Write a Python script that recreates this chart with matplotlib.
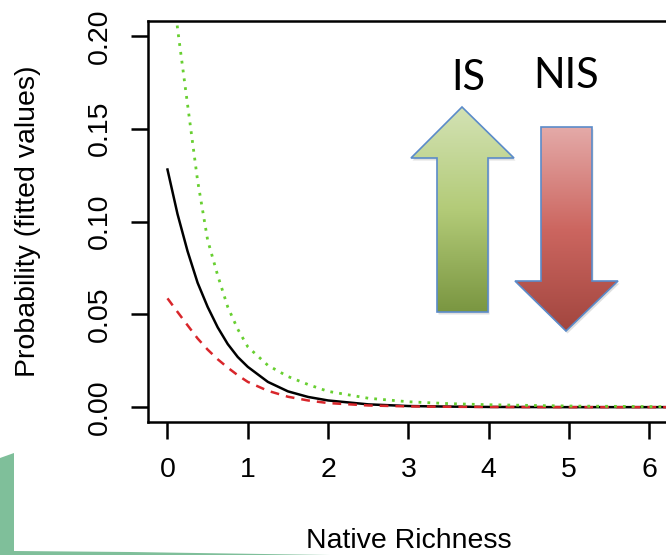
import numpy as np
import matplotlib
matplotlib.use("Agg")
import matplotlib.pyplot as plt
from matplotlib.patches import Polygon
from matplotlib.colors import LinearSegmentedColormap

plt.rcParams['font.family'] = ['Liberation Sans', 'DejaVu Sans']

# fitted probability of establishment vs native richness
richness = [0, 0.125, 0.25, 0.375, 0.5, 0.625, 0.75, 0.875, 1.0,
            1.25, 1.5, 1.75, 2.0, 2.5, 3.0, 3.5, 4.0, 5.0, 6.0, 7.0]
p_all = [0.128, 0.104, 0.084, 0.067, 0.054, 0.043, 0.034, 0.027, 0.0217,
         0.0136, 0.0085, 0.0055, 0.0036, 0.0015, 0.0006, 0.0003, 0.0001, 0.0, 0.0, 0.0]
p_is = [0.255, 0.204, 0.163, 0.122, 0.090, 0.071, 0.054, 0.042, 0.0325,
        0.0225, 0.0165, 0.0122, 0.0085, 0.0048, 0.0029, 0.0019, 0.0013, 0.0006, 0.0003, 0.0001]
p_nis = [0.0586, 0.0513, 0.0441, 0.0370, 0.0310, 0.0258, 0.0213, 0.0172, 0.0136,
         0.0088, 0.0056, 0.0036, 0.0022, 0.0009, 0.0004, 0.0002, 0.0001, 0.0, 0.0, 0.0]

xticks = [0, 1, 2, 3, 4, 5, 6]
yticks = [0.00, 0.05, 0.10, 0.15, 0.20]
ytick_labels = ['0.00', '0.05', '0.10', '0.15', '0.20']

W, H = 666, 555
fig = plt.figure(figsize=(W / 100, H / 100), dpi=100)
fig.patch.set_facecolor('white')

ax = fig.add_axes([148.2 / W, 133 / H, 520.5 / W, 401 / H])
ax.plot(richness, p_all, color='black', lw=1.8)
ax.plot(richness, p_nis, color='#d8262b', lw=1.8, dashes=(3.5, 2.8))
ax.plot(richness, p_is, color='#67cf30', lw=2.0, dashes=(1.0, 2.2))

ax.set_xlim(-0.24, 6.24)
ax.set_ylim(-0.008, 0.208)
ax.set_xticks(xticks)
ax.set_yticks(yticks)
ax.set_yticklabels(ytick_labels, rotation=90, va='center', ha='right')
ax.tick_params(length=12.2, width=1.8, labelsize=20.5, pad=13, color='black')
for s in ax.spines.values():
    s.set_linewidth(1.8)

ax.set_xlabel('Native Richness', fontsize=20.5)
ax.xaxis.set_label_coords(0.5, -0.265)
ax.set_ylabel('Probability (fitted values)', fontsize=20.5)
ax.yaxis.set_label_coords(-0.205, 0.5)

# overlay in pixel coordinates for the arrows and slide decoration
deco = fig.add_axes([0, 0, 1, 1], zorder=5)
deco.patch.set_alpha(0)
deco.axis('off')


def grad_arrow(pts, colors, edge='#5b8bc9'):
    pts = np.array(pts, dtype=float)
    shadow = Polygon(pts + [1.5, 2.5], closed=True, fc='#808080', ec='none', alpha=0.25)
    deco.add_patch(shadow)
    poly = Polygon(pts, closed=True, fc='none', ec=edge, lw=1.2, zorder=3)
    deco.add_patch(poly)
    cmap = LinearSegmentedColormap.from_list('g', colors)
    grad = np.linspace(0, 1, 256).reshape(-1, 1)
    x0, x1 = pts[:, 0].min(), pts[:, 0].max()
    y0, y1 = pts[:, 1].min(), pts[:, 1].max()
    im = deco.imshow(grad, cmap=cmap, extent=(x0, x1, y1, y0), origin='upper',
                     aspect='auto', zorder=2)
    im.set_clip_path(poly)


up_arrow = [(462, 107), (514, 158), (488, 158), (488, 312), (437, 312), (437, 158), (411, 158)]
down_arrow = [(541, 127), (592, 127), (592, 281), (618, 281), (566, 331), (515, 281), (541, 281)]
grad_arrow(up_arrow, ['#d3e2b4', '#b3cb78', '#7a9641'])
grad_arrow(down_arrow, ['#e4aaa8', '#cc6660', '#a2463f'])

deco.text(468, 90, 'IS', fontsize=30, family=['Lato', 'DejaVu Sans'], ha='center', va='baseline')
deco.text(566, 88, 'NIS', fontsize=30, family=['Lato', 'DejaVu Sans'], ha='center', va='baseline')

band = [(0, 458), (14, 453), (14, 551), (130, 552), (330, 555), (0, 555)]
deco.add_patch(Polygon(band, closed=True, fc='#7fbf9a', ec='none'))

deco.set_xlim(0, W)
deco.set_ylim(H, 0)

fig.savefig('out.png', dpi=100)
